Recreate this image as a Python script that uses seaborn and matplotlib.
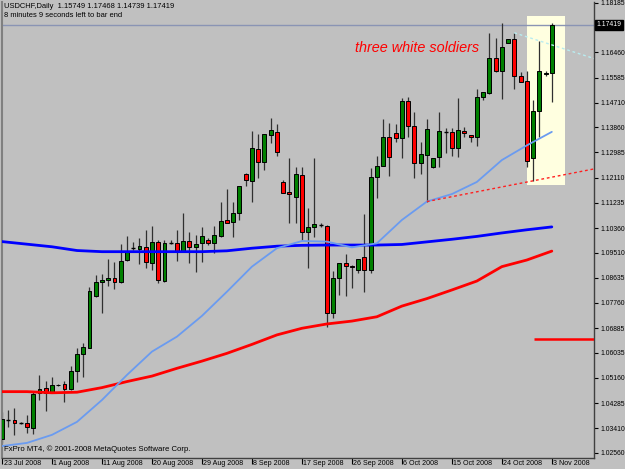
import numpy as np
import pandas as pd
import matplotlib
matplotlib.use("Agg")
import matplotlib.pyplot as plt
import seaborn as sns
from matplotlib.patches import Rectangle
from matplotlib.transforms import blended_transform_factory, ScaledTranslation

# ---------------- data ----------------
opens = [1.0303, 1.0369, 1.0370, 1.0360, 1.0358, 1.0343, 1.0464, 1.0482, 1.0468, 1.0490,
         1.0494, 1.0477, 1.0540, 1.0598, 1.0621, 1.0800, 1.0848, 1.0856, 1.0864, 1.0850,
         1.0925, 1.0965, 1.0963, 1.0969, 1.0915, 1.0987, 1.0852, 1.0984, 1.0983, 1.0954,
         1.0991, 1.0971, 1.0983, 1.0994, 1.0983, 1.1010, 1.1063, 1.1058, 1.1087, 1.1225,
         1.1200, 1.1309, 1.1264, 1.1359, 1.1369, 1.1195, 1.1162, 1.1145, 1.1219, 1.1023,
         1.1041, 1.1046, 1.1044, 1.0742, 1.0862, 1.0914, 1.0905, 1.0890, 1.0935, 1.0890,
         1.1214, 1.1253, 1.1352, 1.1365, 1.1348, 1.1478, 1.1390, 1.1261, 1.1290, 1.1247,
         1.1282, 1.1368, 1.1369, 1.1315, 1.1374, 1.1359, 1.1353, 1.1490, 1.1504, 1.1625,
         1.1582, 1.1680, 1.1691, 1.1564, 1.1547, 1.1278, 1.1442, 1.1571, 1.15749]
highs = [1.0398, 1.0404, 1.0411, 1.0364, 1.0387, 1.0471, 1.0526, 1.0506, 1.0520, 1.0495,
         1.0506, 1.0557, 1.0619, 1.0636, 1.0832, 1.0873, 1.0875, 1.0928, 1.0919, 1.0980,
         1.1010, 1.0989, 1.1000, 1.1029, 1.1043, 1.0995, 1.0995, 1.0994, 1.1029, 1.1089,
         1.1021, 1.1011, 1.1041, 1.1001, 1.1044, 1.1128, 1.1172, 1.1125, 1.1183, 1.1226,
         1.1373, 1.1362, 1.1363, 1.1419, 1.1396, 1.1203, 1.1280, 1.1247, 1.1247, 1.1107,
         1.1280, 1.1053, 1.1046, 1.0887, 1.0915, 1.0945, 1.0907, 1.0930, 1.1085, 1.1244,
         1.1286, 1.1415, 1.1400, 1.1397, 1.1487, 1.1492, 1.1440, 1.1336, 1.1414, 1.1279,
         1.1440, 1.1384, 1.1383, 1.1489, 1.1388, 1.1360, 1.1518, 1.1508, 1.1714, 1.1695,
         1.1749, 1.1693, 1.1714, 1.1578, 1.1581, 1.1481, 1.1687, 1.1580, 1.17468]
lows = [1.0289, 1.0345, 1.0318, 1.0357, 1.0324, 1.0320, 1.0439, 1.0402, 1.0462, 1.0488,
        1.0433, 1.0475, 1.0503, 1.0520, 1.0619, 1.0798, 1.0742, 1.0835, 1.0823, 1.0845,
        1.0923, 1.0960, 1.0911, 1.0896, 1.0890, 1.0844, 1.0849, 1.0982, 1.0922, 1.0952,
        1.0914, 1.0882, 1.0919, 1.0977, 1.0948, 1.1006, 1.1054, 1.1006, 1.1064, 1.1182,
        1.1127, 1.1211, 1.1238, 1.1330, 1.1287, 1.1157, 1.1053, 1.1053, 1.0995, 1.0896,
        1.1006, 1.1040, 1.0691, 1.0723, 1.0804, 1.0800, 1.0827, 1.0879, 1.0813, 1.0881,
        1.1139, 1.1251, 1.1217, 1.1336, 1.1278, 1.1353, 1.1209, 1.1224, 1.1128, 1.1244,
        1.1247, 1.1296, 1.1286, 1.1284, 1.1353, 1.1336, 1.1322, 1.1481, 1.1503, 1.1579,
        1.1483, 1.1678, 1.1518, 1.1543, 1.1249, 1.1200, 1.1353, 1.1565, 1.14739]
closes = [1.0372, 1.0370, 1.0358, 1.0361, 1.0344, 1.0460, 1.0477, 1.0464, 1.0491, 1.0492,
          1.0478, 1.0541, 1.0598, 1.0622, 1.0817, 1.0848, 1.0856, 1.0864, 1.0850, 1.0923,
          1.0952, 1.0966, 1.0974, 1.0917, 1.0987, 1.0856, 1.0983, 1.0985, 1.0956, 1.0991,
          1.0971, 1.0981, 1.1008, 1.0983, 1.1012, 1.1062, 1.1055, 1.1087, 1.1182, 1.1203,
          1.1314, 1.1264, 1.1362, 1.1376, 1.1299, 1.1159, 1.1153, 1.1223, 1.1023, 1.1041,
          1.1049, 1.1047, 1.0742, 1.0862, 1.0914, 1.0905, 1.0900, 1.0929, 1.0890, 1.1214,
          1.1252, 1.1352, 1.1281, 1.1348, 1.1478, 1.1390, 1.1261, 1.1293, 1.1380, 1.1278,
          1.1373, 1.1369, 1.1315, 1.1376, 1.1365, 1.1353, 1.1490, 1.1507, 1.1625, 1.1582,
          1.1664, 1.1691, 1.1564, 1.1544, 1.1270, 1.1442, 1.1581, 1.1575, 1.17419]

date_labels = ["23 Jul 2008", "1 Aug 2008", "11 Aug 2008", "20 Aug 2008", "29 Aug 2008",
               "8 Sep 2008", "17 Sep 2008", "26 Sep 2008", "6 Oct 2008", "15 Oct 2008",
               "24 Oct 2008", "3 Nov 2008"]
price_ticks = [1.18185, 1.16460, 1.15585, 1.14710, 1.13860, 1.12985, 1.12110, 1.11235,
               1.10360, 1.09510, 1.08635, 1.07760, 1.06885, 1.06035, 1.05160, 1.04285,
               1.03410, 1.02560]

ma_bars = [0, 4, 8, 12, 16, 20, 24, 28, 32, 36, 40, 44, 48, 52, 56, 60, 64, 68, 72, 76, 80, 84, 88]
ma_fast = [1.0279, 1.0290, 1.0318, 1.0363, 1.0439, 1.0526, 1.0607, 1.0659, 1.0731, 1.0815,
           1.0902, 1.0966, 1.0991, 1.0989, 1.0969, 1.0983, 1.1064, 1.1128, 1.1154, 1.1196,
           1.1272, 1.1323, 1.1370]
ma_200 = [1.0989, 1.0980, 1.0971, 1.0958, 1.0954, 1.0954, 1.0954, 1.0954, 1.0954, 1.0957,
          1.0966, 1.0973, 1.0976, 1.0977, 1.0977, 1.0977, 1.0979, 1.0988, 1.0997, 1.1007,
          1.1019, 1.1030, 1.1040]
ma_100 = [1.0468, 1.0468, 1.0464, 1.0466, 1.0482, 1.0503, 1.0522, 1.0549, 1.0574, 1.0601,
          1.0632, 1.0665, 1.0688, 1.0703, 1.0713, 1.0728, 1.0765, 1.0791, 1.0821, 1.0852,
          1.0902, 1.0925, 1.0956]

support_bars = [68, 85]
support_vals = [1.1128, 1.1200]
resist_bars = [82, 88]
resist_vals = [1.1714, 1.1672]
box_bars = [84.0, 90.13]
box_vals = [1.1184, 1.1772]
level_red = 1.0650
level_red_start = 85.2
last_price = 1.17419
note = "three white soldiers"

# ---------------- drawing ----------------
bg = "#C0C0C0"
sns.set_theme(style="white")
plt.rcParams["font.family"] = ["Liberation Sans", "DejaVu Sans"]

W, H = 625, 469
fig = plt.figure(figsize=(W / 100, H / 100), dpi=100, facecolor=bg)
ax = fig.add_axes([2 / W, (H - 458) / H, (594.3 - 2) / W, (458 - 2) / H])
ax.set_facecolor(bg)
xmax = 94.8
ax.set_xlim(0.05, xmax)
ax.set_ylim(1.02376, 1.18209)

# highlight box
ax.add_patch(Rectangle((box_bars[0], box_vals[0]), box_bars[1] - box_bars[0],
                       box_vals[1] - box_vals[0], facecolor="#FFFFE0", edgecolor="none", zorder=0.5))

# price line
ax.axhline(last_price, color="#8A94B4", lw=1.0, zorder=1)

# candles
bw = 0.62
for i, (o, h, l, c) in enumerate(zip(opens, highs, lows, closes)):
    ax.vlines(i, l, h, color="#303030", lw=0.9, zorder=2)
    if abs(c - o) < 0.00015:
        ax.hlines((o + c) / 2, i - bw / 2, i + bw / 2, color="black", lw=1.0, zorder=3)
    else:
        col = "#008000" if c > o else "#FF0000"
        ax.add_patch(Rectangle((i - bw / 2, min(o, c)), bw, abs(c - o), facecolor=col,
                               edgecolor="black", lw=0.7, zorder=3))

# moving averages
ma_df = pd.DataFrame({"bar": ma_bars, "fast": ma_fast, "ma200": ma_200, "ma100": ma_100})
sns.lineplot(data=ma_df, x="bar", y="ma100", color="#FF0000", lw=2.0, ax=ax, zorder=4)
sns.lineplot(data=ma_df, x="bar", y="ma200", color="#0000FF", lw=2.0, ax=ax, zorder=4)
sns.lineplot(data=ma_df, x="bar", y="fast", color="#6A9BF0", lw=1.3, ax=ax, zorder=4)

# trend lines (rays to the right edge)
def ray(bars, vals, **kw):
    slope = (vals[1] - vals[0]) / (bars[1] - bars[0])
    ax.plot([bars[0], xmax], [vals[0], vals[0] + slope * (xmax - bars[0])], **kw)

ray(support_bars, support_vals, color="#FF2020", lw=1.0, ls=(0, (2, 2)), zorder=4)
ray(resist_bars, resist_vals, color="#B8ECF0", lw=1.0, ls=(0, (2, 2)), zorder=4)

ax.hlines(level_red, level_red_start, xmax, color="#FF0000", lw=1.8, zorder=4)

# annotation
ax.text(56.5, 1.1660, note, color="#FF0000", fontsize=10.4, style="italic",
        ha="left", va="center", zorder=5)

# axes styling
ax.set_xlabel("")
ax.set_ylabel("")
ax.yaxis.tick_right()
ax.set_yticks(price_ticks)
ax.set_yticklabels([f"{v:.5f}" for v in price_ticks])
ax.set_xticks(list(range(0, 89, 8)))
ax.set_xticklabels(date_labels, ha="left")
ax.tick_params(axis="y", which="both", direction="out", length=3, width=0.8, pad=1.5,
               labelsize=4.9, colors="black", right=True, left=False)
ax.tick_params(axis="x", which="both", direction="out", length=4, width=0.8, pad=-2.5,
               labelsize=5.1, colors="black", bottom=True)
shift = ScaledTranslation(1.5 / 100, 0, fig.dpi_scale_trans)
for lbl in ax.get_xticklabels():
    lbl.set_transform(lbl.get_transform() + shift)
ax.spines["top"].set_visible(False)
ax.spines["left"].set_color("#808080")
ax.spines["left"].set_linewidth(1.5)
ax.spines["bottom"].set_color("#404040")
ax.spines["bottom"].set_linewidth(1.0)
ax.spines["right"].set_color("#404040")
ax.spines["right"].set_linewidth(1.0)

# last price label box
tr = blended_transform_factory(ax.transAxes, ax.transData)
ax.text(1.004, last_price, f"{last_price:.5f}", transform=tr, color="white", fontsize=4.9,
        ha="left", va="center", zorder=6, clip_on=False,
        bbox=dict(boxstyle="square,pad=0.25", facecolor="black", edgecolor="black"))

# header and footer
fig.text(4 / W, 1 - 7 / H, "USDCHF,Daily  1.15749 1.17468 1.14739 1.17419", fontsize=5.4,
         color="black", ha="left", va="center")
fig.text(4 / W, 1 - 15.5 / H, "8 minutes 9 seconds left to bar end", fontsize=5.4,
         color="black", ha="left", va="center")
fig.text(4 / W, 1 - 449 / H, "FxPro MT4, \u00a9 2001-2008 MetaQuotes Software Corp.", fontsize=5.6,
         color="black", ha="left", va="center")

fig.savefig("out.png", dpi=100, facecolor=bg)
